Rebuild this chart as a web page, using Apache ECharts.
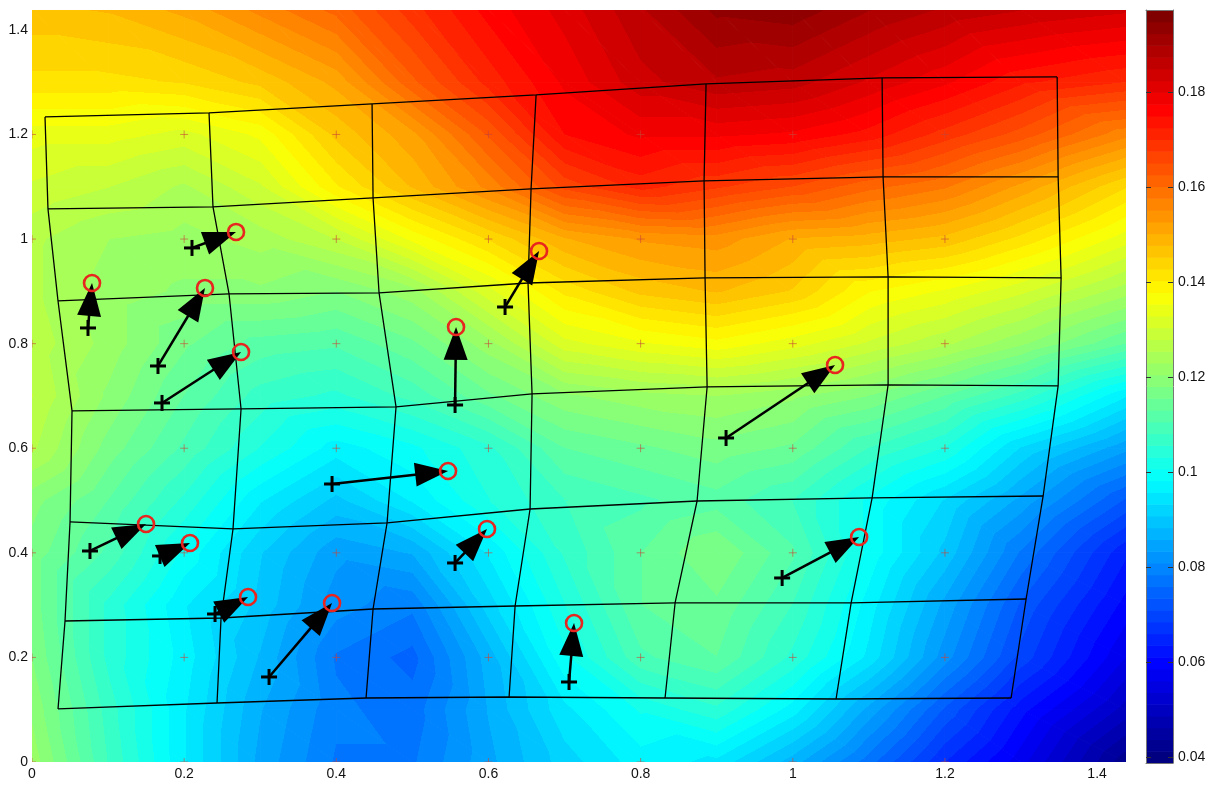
<!DOCTYPE html>
<html><head><meta charset="utf-8">
<script src="https://cdn.jsdelivr.net/npm/echarts@6/dist/echarts.min.js"></script>
<style>html,body{margin:0;padding:0;background:#fff}#c{width:1213px;height:785px}</style>
</head><body><div id="c"></div>
<script>
// ---- data ----
const axisTicks = [0, 0.2, 0.4, 0.6, 0.8, 1, 1.2, 1.4];
const colorTicks = [0.04, 0.06, 0.08, 0.1, 0.12, 0.14, 0.16, 0.18];
const axisMax = 1.438;
const cMin = 0.0387, cMax = 0.1973, nLevels = 64;

// scalar field sampled on a regular grid (rows from top to bottom)
const fieldX = [0, 0.1, 0.2, 0.3, 0.4, 0.5, 0.6, 0.7, 0.8, 0.9, 1.0, 1.1, 1.2, 1.3, 1.438];
const fieldY = [1.438, 1.3, 1.2, 1.1, 1.0, 0.9, 0.8, 0.7, 0.6, 0.5, 0.4, 0.3, 0.2, 0.1, 0];
const fieldZ = [
  [0.147, 0.148, 0.151, 0.156, 0.161, 0.169, 0.176, 0.181, 0.187, 0.193, 0.194, 0.190, 0.187, 0.185, 0.183],
  [0.142, 0.142, 0.143, 0.146, 0.151, 0.162, 0.171, 0.178, 0.184, 0.187, 0.186, 0.182, 0.178, 0.173, 0.170],
  [0.134, 0.134, 0.132, 0.136, 0.146, 0.152, 0.163, 0.175, 0.178, 0.178, 0.177, 0.174, 0.169, 0.164, 0.156],
  [0.130, 0.128, 0.125, 0.130, 0.140, 0.148, 0.156, 0.166, 0.171, 0.168, 0.165, 0.161, 0.158, 0.152, 0.143],
  [0.126, 0.123, 0.122, 0.124, 0.128, 0.136, 0.143, 0.150, 0.153, 0.154, 0.150, 0.149, 0.147, 0.142, 0.134],
  [0.126, 0.122, 0.120, 0.120, 0.118, 0.122, 0.132, 0.141, 0.146, 0.148, 0.145, 0.138, 0.135, 0.131, 0.124],
  [0.127, 0.122, 0.116, 0.112, 0.111, 0.115, 0.122, 0.132, 0.135, 0.137, 0.134, 0.130, 0.126, 0.121, 0.113],
  [0.128, 0.120, 0.113, 0.107, 0.105, 0.109, 0.115, 0.120, 0.122, 0.123, 0.121, 0.118, 0.113, 0.107, 0.096],
  [0.126, 0.117, 0.110, 0.103, 0.097, 0.100, 0.105, 0.113, 0.115, 0.117, 0.115, 0.108, 0.103, 0.093, 0.084],
  [0.119, 0.113, 0.105, 0.096, 0.090, 0.096, 0.103, 0.108, 0.110, 0.112, 0.108, 0.100, 0.093, 0.085, 0.073],
  [0.117, 0.110, 0.100, 0.091, 0.084, 0.086, 0.096, 0.106, 0.113, 0.118, 0.111, 0.100, 0.090, 0.078, 0.064],
  [0.117, 0.105, 0.096, 0.090, 0.082, 0.079, 0.092, 0.103, 0.113, 0.115, 0.108, 0.097, 0.085, 0.073, 0.060],
  [0.118, 0.105, 0.097, 0.088, 0.078, 0.075, 0.087, 0.100, 0.110, 0.113, 0.105, 0.095, 0.082, 0.070, 0.056],
  [0.120, 0.107, 0.096, 0.086, 0.079, 0.077, 0.086, 0.095, 0.101, 0.105, 0.097, 0.085, 0.073, 0.062, 0.050],
  [0.122, 0.108, 0.096, 0.085, 0.078, 0.078, 0.085, 0.092, 0.097, 0.095, 0.087, 0.077, 0.066, 0.057, 0.042]
];

// deformed mesh nodes (7 rows x 7 columns, top row first)
const meshX = [
  [0.0171, 0.2327, 0.4470, 0.6626, 0.8860, 1.1174, 1.3475],
  [0.0210, 0.2379, 0.4483, 0.6560, 0.8834, 1.1187, 1.3488],
  [0.0342, 0.2590, 0.4562, 0.6520, 0.8847, 1.1253, 1.3527],
  [0.0526, 0.2748, 0.4785, 0.6573, 0.8874, 1.1253, 1.3488],
  [0.0500, 0.2642, 0.4667, 0.6547, 0.8742, 1.1043, 1.3291],
  [0.0434, 0.2485, 0.4483, 0.6350, 0.8453, 1.0767, 1.3067],
  [0.0342, 0.2432, 0.4391, 0.6271, 0.8321, 1.0569, 1.2870]
];
const meshY = [
  [1.2335, 1.2411, 1.2584, 1.2756, 1.2966, 1.3081, 1.3100],
  [1.0576, 1.0614, 1.0786, 1.0958, 1.1111, 1.1188, 1.1188],
  [0.8816, 0.8950, 0.8969, 0.9160, 0.9256, 0.9275, 0.9256],
  [0.6713, 0.6751, 0.6789, 0.7038, 0.7172, 0.7210, 0.7191],
  [0.4590, 0.4456, 0.4571, 0.4838, 0.4991, 0.5049, 0.5087],
  [0.2696, 0.2754, 0.2926, 0.2983, 0.3041, 0.3041, 0.3117],
  [0.1014, 0.1128, 0.1224, 0.1243, 0.1224, 0.1205, 0.1224]
];

// displacement arrows: start (+) and end (red circle)
const startX = [0.0736, 0.2103, 0.1656, 0.1709, 0.5561, 0.6218, 0.3944, 0.9123, 0.0762, 0.1683, 0.5561, 0.2406, 0.3116, 0.7059, 0.9860];
const startY = [0.8300, 0.9830, 0.7573, 0.6866, 0.6827, 0.8701, 0.5316, 0.6196, 0.4035, 0.3940, 0.3806, 0.2830, 0.1626, 0.1530, 0.3519];
const endX   = [0.0789, 0.2682, 0.2274, 0.2748, 0.5574, 0.6665, 0.5469, 1.0556, 0.1499, 0.2077, 0.5981, 0.2840, 0.3944, 0.7125, 1.0872];
const endY   = [0.9160, 1.0136, 0.9065, 0.7841, 0.8319, 0.9772, 0.5565, 0.7592, 0.4552, 0.4188, 0.4456, 0.3155, 0.3041, 0.2658, 0.4303];

// regular reference grid markers
const markX = [0, 0.2, 0.4, 0.6, 0.8, 1, 1.2];
const markY = [0, 0.2, 0.4, 0.6, 0.8, 1, 1.2];

// ---- colour helpers ----
const step = (cMax - cMin) / nLevels;
function jet(t) {
  const c = v => Math.max(0, Math.min(1, v));
  const r = c(Math.min(4 * t - 1.5, -4 * t + 4.5));
  const g = c(Math.min(4 * t - 0.5, -4 * t + 3.5));
  const b = c(Math.min(4 * t + 0.5, -4 * t + 2.5));
  return 'rgb(' + Math.round(r * 255) + ',' + Math.round(g * 255) + ',' + Math.round(b * 255) + ')';
}
function band(v) { return Math.max(0, Math.min(nLevels - 1, Math.floor((v - cMin) / step))); }
function bandColor(k) { return jet(k / (nLevels - 1)); }

function triFill(p, v) {
  const x1 = p[0][0], y1 = p[0][1], x2 = p[1][0], y2 = p[1][1], x3 = p[2][0], y3 = p[2][1];
  const det = (x2 - x1) * (y3 - y1) - (x3 - x1) * (y2 - y1);
  const vmin = Math.min(v[0], v[1], v[2]), vmax = Math.max(v[0], v[1], v[2]);
  const kmin = band(vmin), kmax = band(vmax);
  if (kmin === kmax || Math.abs(det) < 1e-9) return bandColor(kmin);
  const a = ((v[1] - v[0]) * (y3 - y1) - (v[2] - v[0]) * (y2 - y1)) / det;
  const b = ((x2 - x1) * (v[2] - v[0]) - (x3 - x1) * (v[1] - v[0])) / det;
  const gm = Math.hypot(a, b);
  if (gm < 1e-12) return bandColor(kmin);
  const im = v.indexOf(vmin);
  const sx = p[im][0], sy = p[im][1];
  const len = (vmax - vmin) / gm;
  const ux = a / gm, uy = b / gm;
  const stops = [{ offset: 0, color: bandColor(kmin) }];
  for (let k = kmin + 1; k <= kmax; k++) {
    const o = (cMin + k * step - vmin) / (vmax - vmin);
    stops.push({ offset: o, color: bandColor(k - 1) });
    stops.push({ offset: o, color: bandColor(k) });
  }
  stops.push({ offset: 1, color: bandColor(kmax) });
  return { type: 'linear', x: sx, y: sy, x2: sx + ux * len, y2: sy + uy * len, colorStops: stops, global: true };
}

// ---- series data ----
const cellData = [];
for (let j = 0; j < fieldY.length - 1; j++)
  for (let i = 0; i < fieldX.length - 1; i++)
    cellData.push([(fieldX[i] + fieldX[i + 1]) / 2, (fieldY[j] + fieldY[j + 1]) / 2, i, j]);

const meshSeries = [];
for (let r = 0; r < meshX.length; r++) {
  meshSeries.push(meshX[r].map((x, c) => [x, meshY[r][c]]));
}
for (let c = 0; c < meshX[0].length; c++) {
  meshSeries.push(meshX.map((row, r) => [row[c], meshY[r][c]]));
}

const markData = [];
markX.forEach(x => markY.forEach(y => markData.push([x, y])));

const arrowData = startX.map((x, i) => [x, startY[i], endX[i], endY[i]]);
const bandData = [];
for (let k = 0; k < nLevels; k++) bandData.push([0.5, cMin + (k + 0.5) * step, k]);

const labelFont = { fontFamily: 'Liberation Sans, Arial, sans-serif', fontSize: 14, color: '#111' };

const chart = echarts.init(document.getElementById('c'), null, { renderer: 'canvas' });
const series = [];

series.push({
  type: 'custom', xAxisIndex: 0, yAxisIndex: 0, clip: true, silent: true, z: 1,
  encode: { x: 0, y: 1 },
  data: cellData,
  renderItem: function (params, api) {
    const i = api.value(2), j = api.value(3);
    const P = [[i, j], [i + 1, j], [i + 1, j + 1], [i, j + 1]].map(q => api.coord([fieldX[q[0]], fieldY[q[1]]]));
    const V = [fieldZ[j][i], fieldZ[j][i + 1], fieldZ[j + 1][i + 1], fieldZ[j + 1][i]];
    const t1 = [P[0], P[1], P[2]], v1 = [V[0], V[1], V[2]];
    const t2 = [P[0], P[2], P[3]], v2 = [V[0], V[2], V[3]];
    const f1 = triFill(t1, v1), f2 = triFill(t2, v2);
    return {
      type: 'group',
      children: [
        { type: 'polygon', shape: { points: t1 }, style: { fill: f1, stroke: f1, lineWidth: 1 } },
        { type: 'polygon', shape: { points: t2 }, style: { fill: f2, stroke: f2, lineWidth: 1 } }
      ]
    };
  }
});

meshSeries.forEach(d => series.push({
  type: 'line', xAxisIndex: 0, yAxisIndex: 0, data: d, symbol: 'none', silent: true, z: 3,
  lineStyle: { color: '#000', width: 1.3 }
}));

series.push({
  type: 'custom', xAxisIndex: 0, yAxisIndex: 0, clip: true, silent: true, z: 4,
  encode: { x: 0, y: 1 }, data: markData,
  renderItem: function (params, api) {
    const p = api.coord([api.value(0), api.value(1)]);
    const st = { stroke: 'rgba(200,70,55,0.6)', lineWidth: 1 };
    return { type: 'group', children: [
      { type: 'line', shape: { x1: p[0] - 4, y1: p[1], x2: p[0] + 4, y2: p[1] }, style: st },
      { type: 'line', shape: { x1: p[0], y1: p[1] - 4, x2: p[0], y2: p[1] + 4 }, style: st }
    ] };
  }
});

series.push({
  type: 'custom', xAxisIndex: 0, yAxisIndex: 0, silent: true, z: 5,
  encode: { x: [0, 2], y: [1, 3] }, data: arrowData,
  renderItem: function (params, api) {
    const s = api.coord([api.value(0), api.value(1)]);
    const e = api.coord([api.value(2), api.value(3)]);
    const dx = e[0] - s[0], dy = e[1] - s[1];
    const L = Math.hypot(dx, dy) || 1;
    const ux = dx / L, uy = dy / L, nx = -uy, ny = ux;
    const hl = 33, hw = 12;
    const bx = e[0] - ux * hl, by = e[1] - uy * hl;
    return { type: 'group', children: [
      { type: 'line', shape: { x1: s[0], y1: s[1], x2: bx + ux * 2, y2: by + uy * 2 }, style: { stroke: '#000', lineWidth: 2.5 } },
      { type: 'polygon', shape: { points: [[e[0], e[1]], [bx + nx * hw, by + ny * hw], [bx - nx * hw, by - ny * hw]] }, style: { fill: '#000' } },
      { type: 'line', shape: { x1: s[0] - 8, y1: s[1], x2: s[0] + 8, y2: s[1] }, style: { stroke: '#000', lineWidth: 3 } },
      { type: 'line', shape: { x1: s[0], y1: s[1] - 8, x2: s[0], y2: s[1] + 8 }, style: { stroke: '#000', lineWidth: 3 } },
      { type: 'circle', shape: { cx: e[0], cy: e[1], r: 8 }, style: { fill: 'none', stroke: '#e8251e', lineWidth: 2.6 } }
    ] };
  }
});

series.push({
  type: 'custom', xAxisIndex: 1, yAxisIndex: 1, silent: true, z: 2,
  encode: { x: 0, y: 1 }, data: bandData,
  renderItem: function (params, api) {
    const k = api.value(2);
    const p1 = api.coord([0, cMin + k * step]);
    const p2 = api.coord([1, cMin + (k + 1) * step]);
    return { type: 'rect', shape: { x: p1[0], y: p2[1], width: p2[0] - p1[0], height: p1[1] - p2[1] + 0.6 }, style: { fill: bandColor(k) } };
  }
});

chart.setOption({
  animation: false,
  backgroundColor: '#fff',
  grid: [
    { left: 32, top: 10, width: 1094, height: 752 },
    { left: 1146, top: 10, width: 27, height: 753 }
  ],
  xAxis: [
    { gridIndex: 0, type: 'value', min: 0, max: axisMax,
      axisLine: { show: false }, axisTick: { show: false }, splitLine: { show: false },
      axisLabel: Object.assign({ customValues: axisTicks, margin: 5 }, labelFont) },
    { gridIndex: 1, type: 'value', min: 0, max: 1, position: 'bottom', z: 6,
      axisLine: { show: true, onZero: false, lineStyle: { color: '#777', width: 1 } },
      axisTick: { show: false }, axisLabel: { show: false }, splitLine: { show: false } },
    { gridIndex: 1, type: 'value', min: 0, max: 1, position: 'top', z: 6,
      axisLine: { show: true, onZero: false, lineStyle: { color: '#777', width: 1 } },
      axisTick: { show: false }, axisLabel: { show: false }, splitLine: { show: false } }
  ],
  yAxis: [
    { gridIndex: 0, type: 'value', min: 0, max: axisMax,
      axisLine: { show: false }, axisTick: { show: false }, splitLine: { show: false },
      axisLabel: Object.assign({ customValues: axisTicks, margin: 4 }, labelFont) },
    { gridIndex: 1, type: 'value', min: cMin, max: cMax, position: 'right', z: 6,
      axisLine: { show: true, onZero: false, lineStyle: { color: '#777', width: 1 } },
      axisTick: { show: true, inside: true, length: 5, customValues: colorTicks, lineStyle: { color: '#333' } },
      splitLine: { show: false },
      axisLabel: Object.assign({ customValues: colorTicks, margin: 5 }, labelFont) },
    { gridIndex: 1, type: 'value', min: cMin, max: cMax, position: 'left', z: 6,
      axisLine: { show: true, onZero: false, lineStyle: { color: '#777', width: 1 } },
      axisTick: { show: true, inside: true, length: 5, customValues: colorTicks, lineStyle: { color: '#333' } },
      splitLine: { show: false }, axisLabel: { show: false } }
  ],
  series: series
});
</script>
</body></html>
